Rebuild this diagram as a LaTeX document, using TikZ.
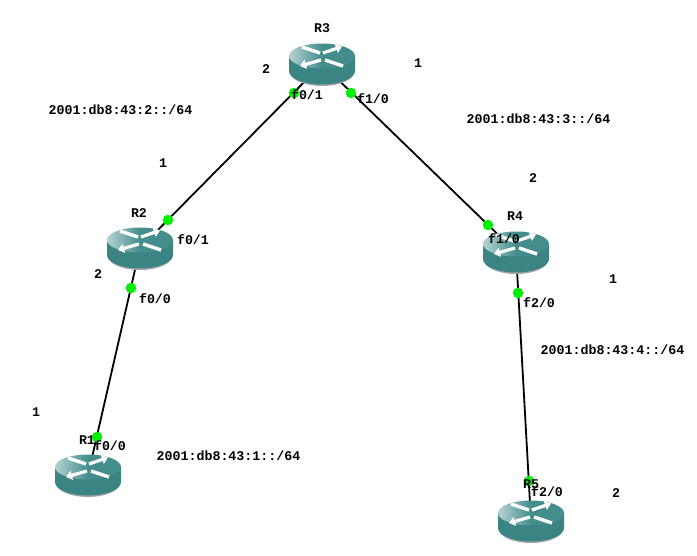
\documentclass[tikz,border=0pt]{standalone}
\usepackage{fontspec}
\setmonofont{Liberation Mono}
\usetikzlibrary{arrows.meta}
\definecolor{rbody}{HTML}{3A8584}
\definecolor{rtop}{HTML}{438E8D}
\definecolor{rlight}{HTML}{B4D2D2}
\definecolor{portgreen}{HTML}{00F000}
\pgfdeclarehorizontalshading{routertop}{100bp}{color(0bp)=(rlight); color(25bp)=(rlight); color(50bp)=(rtop); color(100bp)=(rtop)}
\tikzset{
  link/.style={line width=1.8pt,black},
  port/.style={circle,fill=portgreen,draw=none,minimum size=10.5pt,inner sep=0pt},
  lab/.style={font=\ttfamily\bfseries\fontsize{13.3}{13.3}\selectfont,inner sep=0pt,text=black},
  harrow/.style={white,line width=3.2pt,-{Triangle[length=6pt,width=9pt]}},
  hstrip/.style={white,line width=3.4pt}
}
\newcommand{\routerat}[2]{%
  \begin{scope}[shift={(#1,#2)}]
    % #1,#2: centre of the top ellipse
    \fill[black!35] (-32,16) arc[start angle=180,end angle=0,x radius=32,y radius=14] -- cycle;
    \fill[rbody] (-33,0) -- (-33,15) arc[start angle=180,end angle=0,x radius=33,y radius=13.5] -- (33,0) -- cycle;
    \shade[shading=routertop] (0,0) ellipse[x radius=33,y radius=12.5];
    \draw[hstrip] (-20,-9) -- (-2,-3);
    \draw[harrow] (1,-3) -- (20,-9.5);
    \draw[harrow] (-1,4) -- (-22,10);
    \draw[hstrip] (3,4) -- (21,10);
  \end{scope}}
\begin{document}
\begin{tikzpicture}[x=1pt,y=-1pt]
\useasboundingbox (0,0) rectangle (697,555);
\fill[white] (0,0) rectangle (697,555);
\coordinate (R3c) at (322,64);
\coordinate (R2c) at (140,248);
\coordinate (R4c) at (516,252);
\coordinate (R1c) at (88,475);
\coordinate (R5c) at (531,521);
\draw[link] (R3c) -- (R2c);
\draw[link] (R3c) -- (R4c);
\draw[link] (R2c) -- (R1c);
\draw[link] (R4c) -- (R5c);
\routerat{322}{56}
\routerat{140}{240}
\routerat{516}{244}
\routerat{88}{467}
\routerat{531}{513}
\node[port] (p3a) at (294,93) {};
\node[port] (p3b) at (351,93) {};
\node[port] (p2a) at (168,220) {};
\node[port] (p2b) at (131,288) {};
\node[port] (p4a) at (488,225) {};
\node[port] (p4b) at (518,293) {};
\node[port] (p1a) at (97,437) {};
\node[port] (p5a) at (529,481) {};
\node[lab] (n3) at (322,28) {R3};
\node[lab] (l1) at (266,69) {2};
\node[lab] (l2) at (418,63) {1};
\node[lab] (l3) at (307,95) {f0/1};
\node[lab] (l4) at (373,99) {f1/0};
\node[lab] (a2) at (120.5,110) {2001:db8:43:2::/64};
\node[lab] (a3) at (538.5,119) {2001:db8:43:3::/64};
\node[lab] (l5) at (163,163) {1};
\node[lab] (l6) at (533,178) {2};
\node[lab] (n2) at (139,213) {R2};
\node[lab] (l7) at (193,240) {f0/1};
\node[lab] (n4) at (515,216) {R4};
\node[lab] (l8) at (504,239) {f1/0};
\node[lab] (l9) at (98,274) {2};
\node[lab] (l10) at (155,299) {f0/0};
\node[lab] (l11) at (613,279) {1};
\node[lab] (l12) at (539,303) {f2/0};
\node[lab] (a4) at (612.5,350) {2001:db8:43:4::/64};
\node[lab] (l13) at (36,412) {1};
\node[lab] (n1) at (87,440) {R1};
\node[lab] (l14) at (110,446) {f0/0};
\node[lab] (a1) at (228.5,456) {2001:db8:43:1::/64};
\node[lab] (n5) at (531,484) {R5};
\node[lab] (l15) at (547,492) {f2/0};
\node[lab] (l16) at (616,493) {2};
\end{tikzpicture}
\end{document}
